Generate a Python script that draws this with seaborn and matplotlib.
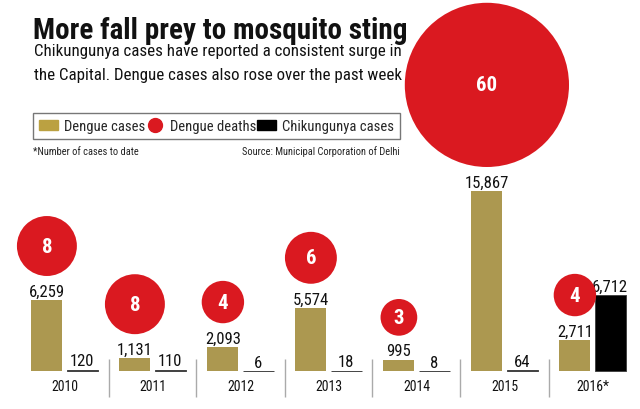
import matplotlib
matplotlib.use("Agg")
import matplotlib.pyplot as plt
from matplotlib import font_manager as fm
from matplotlib.lines import Line2D
from matplotlib.patches import Patch
import numpy as np
import pandas as pd
import seaborn as sns

years = ["2010", "2011", "2012", "2013", "2014", "2015", "2016*"]
dengue_cases = [6259, 1131, 2093, 5574, 995, 15867, 2711]
dengue_deaths = [8, 8, 4, 6, 3, 60, 4]
chik_cases = [120, 110, 6, 18, 8, 64, 6712]

GOLD = "#BBA141"
RED = "#DA1920"
BLACK = "#000000"

sns.set_theme(style="white")
names = {f.name for f in fm.fontManager.ttflist}
NARROW = next((n for n in ["Roboto Condensed", "Liberation Sans Narrow", "Open Sans Condensed"]
               if n in names), "DejaVu Sans")
plt.rcParams["font.family"] = [NARROW, "DejaVu Sans"]
plt.rcParams["font.stretch"] = "condensed"

W, H = 640, 410
PX = 180 / 15867      # pixels per case
BASE = 38             # baseline, px above figure bottom

fig = plt.figure(figsize=(W / 100, H / 100), dpi=100)
ax = fig.add_axes([0, 0, 1, 1])

df = pd.DataFrame({
    "year": years * 2,
    "series": ["Dengue cases"] * 7 + ["Chikungunya cases"] * 7,
    "cases": dengue_cases + chik_cases,
})
sns.barplot(data=df, x="year", y="cases", hue="series", palette=[GOLD, BLACK],
            width=0.8, gap=0.12, ax=ax, legend=False, linewidth=0)
for p in ax.containers[1]:
    p.set_edgecolor("#444")
    p.set_linewidth(0.7)

for c, vals in zip(ax.containers, [dengue_cases, chik_cases]):
    ax.bar_label(c, labels=[f"{v:,}" for v in vals], padding=1, fontsize=12, color="#111")

# death bubbles: area proportional to deaths, sitting above the dengue label
xs = np.arange(len(years)) - 0.2
r_px = 10.6 * np.sqrt(dengue_deaths)
ys = np.array(dengue_cases) + (24 + r_px) / PX
ax.scatter(xs, ys, s=(2 * r_px * 0.72) ** 2, color=RED, linewidths=0, zorder=3)
for x, y, d in zip(xs, ys, dengue_deaths):
    ax.text(x, y, str(d), color="white", fontsize=15, fontweight="bold",
            ha="center", va="center", zorder=4)

ax.vlines(np.arange(0.5, len(years) - 0.5), -26 / PX, 12 / PX, color="#aaa", lw=1)
for i, yr in enumerate(years):
    ax.text(i, -15 / PX, yr, ha="center", va="center", fontsize=10, color="#111")

ax.set_ylim(-BASE / PX, (H - BASE) / PX)
ax.set_xlim(-64.5 / 88, (W - 64.5) / 88)
ax.set_axis_off()

# header
fig.text(33 / W, 1 - 39 / H, "More fall prey to mosquito sting", fontsize=21,
         fontweight="bold", va="baseline", color="#111")
fig.text(34 / W, 1 - 56 / H, "Chikungunya cases have reported a consistent surge in",
         fontsize=12.2, va="baseline", color="#111")
fig.text(34 / W, 1 - 80 / H, "the Capital. Dengue cases also rose over the past week",
         fontsize=12.2, va="baseline", color="#111")

handles = [Patch(color=GOLD),
           Line2D([], [], marker="o", ls="", color=RED, markersize=10),
           Patch(color=BLACK)]
leg = fig.legend(handles, ["Dengue cases", "Dengue deaths", "Chikungunya cases"],
                 ncol=3, loc="lower left", mode="expand",
                 bbox_to_anchor=(33 / W, 1 - 140 / H, 367 / W, 30 / H),
                 fontsize=10.5, frameon=True, fancybox=False, borderaxespad=0,
                 handlelength=1.3, handletextpad=0.4, columnspacing=0.6)
leg.get_frame().set_edgecolor("#555")
leg.get_frame().set_linewidth(1)

fig.text(33 / W, 1 - 152 / H, "*Number of cases to date", fontsize=7.5,
         va="center", color="#222")
fig.text(400 / W, 1 - 152 / H, "Source: Municipal Corporation of Delhi", fontsize=7.5,
         va="center", ha="right", color="#222")

fig.savefig("out.png", dpi=100)
